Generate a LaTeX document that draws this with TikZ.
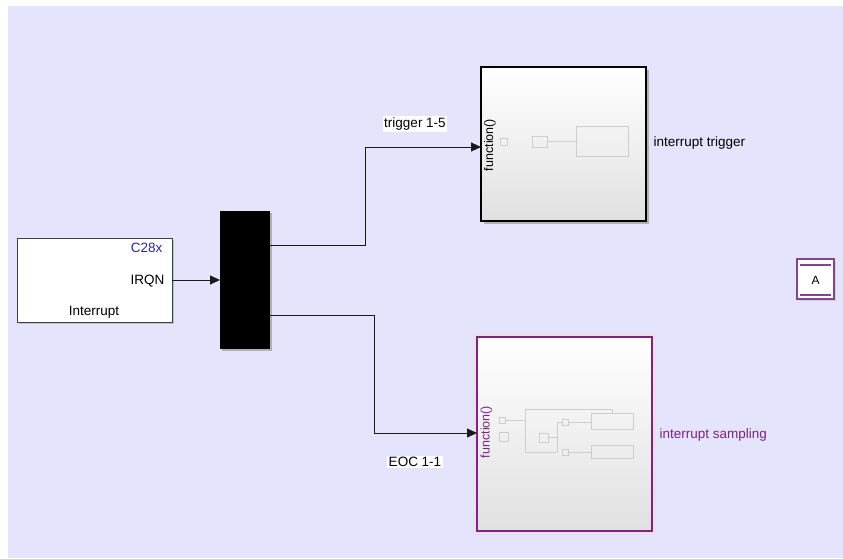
\documentclass[tikz,border=0pt]{standalone}
\usepackage{fontspec}
\setmainfont{Liberation Sans}
\usetikzlibrary{arrows.meta}
\definecolor{bgc}{RGB}{228,228,252}
\definecolor{purp}{RGB}{125,35,130}
\definecolor{navyt}{RGB}{40,40,150}
\definecolor{faint}{RGB}{205,205,205}
\definecolor{apurp}{RGB}{130,70,145}
\tikzset{
  conn/.style={line width=0.9pt, draw=black!90, -{Triangle[length=10pt,width=9pt]}},
  lbl/.style={fill=white, inner sep=1.5pt, font=\fontsize{13.5}{15}\selectfont},
  txt/.style={font=\fontsize{13.5}{15}\selectfont},
  blk/.style={inner sep=0pt, outer sep=0pt},
  inner/.style={draw=faint, line width=0.6pt},
}
\begin{document}
\begin{tikzpicture}[x=1pt,y=-1pt]
\useasboundingbox (0,0) rectangle (843,558);
\fill[white] (0,0) rectangle (843,558);
\fill[bgc] (8,6) rectangle (843,558);

% Interrupt block
\fill[black!25] (19,240) rectangle (174,324);
\node[blk, draw=black!75, line width=0.8pt, fill=white, minimum width=155pt, minimum height=84pt] (intr) at (94.5,280) {};
\node[anchor=east, text=navyt, txt] (c28) at (166,248) {C28x};
\node[anchor=east, txt] (irqn) at (168,281) {IRQN};
\node[txt] (intlbl) at (94,312) {Interrupt};

% Demux bar
\fill[black!30] (222,213) rectangle (272,351);
\node[blk, fill=black, minimum width=50pt, minimum height=138pt] (bar) at (245,280) {};

% Trigger subsystem
\fill[black!30] (484,70) rectangle (649,224);
\shade[top color=white, middle color=gray!6, bottom color=gray!24] (481,67) rectangle (646,221);
\node[blk, draw=black, line width=2pt, minimum width=165pt, minimum height=154pt] (trig) at (563.5,144) {};
\node[rotate=90, font=\fontsize{12.5}{14}\selectfont] (tfn) at (490,145) {function()};
\draw[inner] (500,138) rectangle (507,145);
\draw[inner] (532,136) rectangle (547,147);
\draw[inner] (547,141) -- (576,141);
\draw[inner] (576,126) rectangle (628,156);
\node[anchor=west, txt] (tname) at (650,143) {interrupt trigger};

% Sampling subsystem
\fill[purp!15] (473,333) rectangle (656,535);
\shade[top color=white, middle color=gray!6, bottom color=gray!24] (477,337) rectangle (652,531);
\node[blk, draw=purp, line width=2pt, minimum width=175pt, minimum height=194pt] (samp) at (564.5,434) {};
\node[rotate=90, text=purp, font=\fontsize{12.5}{14}\selectfont] (sfn) at (486.5,432) {function()};
\draw[inner] (499,417) rectangle (505,423);
\draw[inner] (499,432) rectangle (508,441);
\draw[inner] (505,420) -- (525,420);
\draw[inner] (525,409) -- (525,452) -- (557,452);
\draw[inner] (525,409) -- (612,409) -- (612,413);
\draw[inner] (539,433) rectangle (548,442);
\draw[inner] (548,437) -- (557,437);
\draw[inner] (557,422) -- (557,452);
\draw[inner] (557,422) -- (562,422);
\draw[inner] (562,419) rectangle (568,425);
\draw[inner] (562,449) rectangle (568,455);
\draw[inner] (568,422) -- (591,422);
\draw[inner] (568,452) -- (591,452);
\draw[inner] (591,413) rectangle (633,429);
\draw[inner] (591,445) rectangle (633,458);
\node[anchor=west, text=purp, txt] (sname) at (656,435) {interrupt sampling};

% Goto block A
\fill[apurp!30] (799,261) rectangle (836,301);
\node[blk, draw=apurp, line width=1.2pt, fill=white, minimum width=37pt, minimum height=40pt] (gotoA) at (815.5,279) {};
\draw[apurp, line width=1.2pt] (800,265) -- (831,265);
\draw[apurp, line width=1.2pt] (800,295) -- (831,295);
\node[font=\fontsize{12}{13}\selectfont] (alab) at (815.5,280) {A};

% connectors
\coordinate (irqport) at (172,280);
\coordinate (bout1) at (270,245);
\coordinate (bout2) at (270,315);
\coordinate (tin) at (481,147);
\coordinate (sin) at (477,433);
\draw[conn] (irqport) -- (bar.west);
\draw[conn] (bout1) -- (365,245) -- (365,147) -- (tin);
\draw[conn] (bout2) -- (374,315) -- (374,433) -- (sin);

% signal labels
\node[lbl] (trl) at (415,124) {trigger 1-5};
\node[lbl] (eoc) at (415,462) {EOC 1-1};
\end{tikzpicture}
\end{document}
